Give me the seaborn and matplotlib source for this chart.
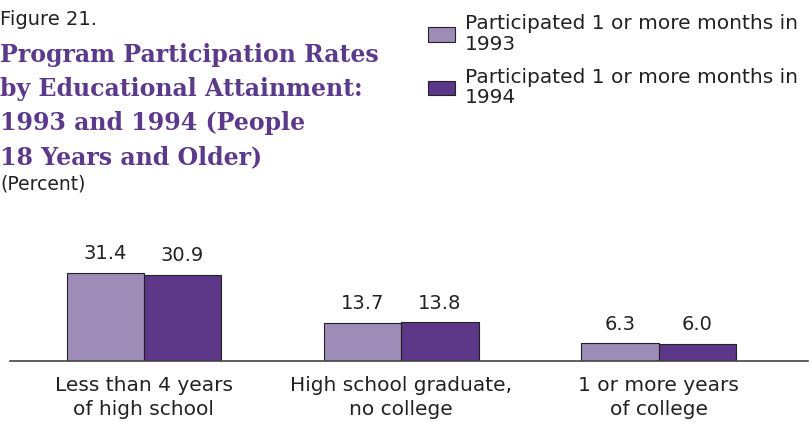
import matplotlib
matplotlib.use("Agg")
import matplotlib.pyplot as plt
import seaborn as sns
import pandas as pd

# data
categories = ["Less than 4 years\nof high school",
              "High school graduate,\nno college",
              "1 or more years\nof college"]
series = ["Participated 1 or more months in\n1993",
          "Participated 1 or more months in\n1994"]
values_1993 = [31.4, 13.7, 6.3]
values_1994 = [30.9, 13.8, 6.0]

light = "#9d8bb8"
dark = "#5c3687"
title_color = "#5b3a8c"

df = pd.DataFrame({
    "category": categories * 2,
    "series": [series[0]] * 3 + [series[1]] * 3,
    "value": values_1993 + values_1994,
})

sns.set_style("white")
plt.rcParams["font.family"] = ["DejaVu Sans"]

W, H = 812, 422
fig = plt.figure(figsize=(W / 100, H / 100), dpi=100)
ax = fig.add_axes([10 / W, (H - 361) / H, 798 / W, 131 / H])

sns.barplot(data=df, x="category", y="value", hue="series",
            palette=[light, dark], width=0.6, saturation=1,
            edgecolor="#222222", linewidth=0.8, ax=ax)

for cont in ax.containers:
    ax.bar_label(cont, fmt="%.1f", padding=7, fontsize=14,
                 family=["Liberation Sans Narrow", "DejaVu Sans"], color="#222222")

ax.set_xlim(-0.52, 2.58)
ax.set_ylim(0, 46.8)
ax.set_xlabel("")
ax.set_ylabel("")
ax.set_yticks([])
for s in ["top", "right", "left"]:
    ax.spines[s].set_visible(False)
ax.spines["bottom"].set_color("#444444")
ax.spines["bottom"].set_linewidth(1.2)
ax.tick_params(axis="x", length=0, pad=11, labelsize=14.5, labelcolor="#222222")
for lbl in ax.get_xticklabels():
    lbl.set_linespacing(1.3)

# legend moved to top right
handles, labels = ax.get_legend_handles_labels()
ax.legend_.remove()
leg = fig.legend(handles, labels, loc="upper left", bbox_to_anchor=(420 / W, 1 - 6 / H),
                 frameon=False, fontsize=14.5, handlelength=1.35, handleheight=0.75,
                 handletextpad=0.5, labelspacing=0.7, borderaxespad=0,
                 labelcolor="#222222")
for t in leg.get_texts():
    t.set_linespacing(1.1)

# titles
fig.text(0, 1 - 25 / H, "Figure 21.", fontsize=14, color="#222222", va="baseline")
title_lines = ["Program Participation Rates", "by Educational Attainment:",
               "1993 and 1994 (People", "18 Years and Older)"]
for i, line in enumerate(title_lines):
    fig.text(0, 1 - (62 + 34 * i) / H, line, fontsize=17, fontweight="heavy",
             family="DejaVu Serif", color=title_color, va="baseline")
fig.text(0, 1 - 190 / H, "(Percent)", fontsize=13.5, color="#222222", va="baseline")

fig.savefig("out.png", dpi=100)
